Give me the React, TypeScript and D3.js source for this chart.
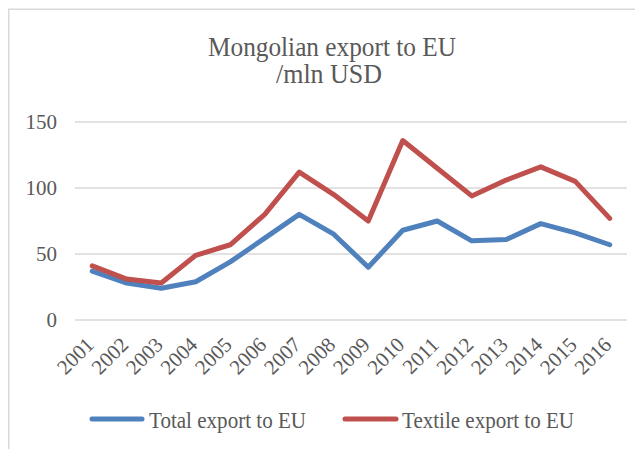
import * as d3 from "d3";

const years = ["2001", "2002", "2003", "2004", "2005", "2006", "2007", "2008", "2009", "2010", "2011", "2012", "2013", "2014", "2015", "2016"];
const totalExport = [37, 28, 24, 29, 44, 62, 80, 65, 40, 68, 75, 60, 61, 73, 66, 57];
const textileExport = [41, 31, 28, 49, 57, 80, 112, 95, 75, 136, 115, 94, 106, 116, 105, 77];
const yTicks = [0, 50, 100, 150];

const seriesNames = ["Total export to EU", "Textile export to EU"];
const seriesColors = ["#4F81BD", "#C0504D"];

const W = 635;
const H = 441;
const font = "Liberation Serif, Times New Roman, serif";
const textColor = "#595959";
const gridColor = "#D9D9D9";

export default function App() {
  const x = d3.scalePoint<string>().domain(years).range([67, 619]).padding(0.5);
  const y = d3.scaleLinear().domain([0, 150]).range([312, 114]);

  const line = d3
    .line<number>()
    .x((_, i) => x(years[i]) as number)
    .y((d) => y(d));

  const series = [totalExport, textileExport];

  return (
    <svg width={W} height={H} style={{ display: "block", background: "#fff" }}>
      {/* chart frame, runs off the right and bottom */}
      <rect x={0.75} y={1.25} width={W + 40} height={H + 40} fill="#fff" stroke={gridColor} strokeWidth={1.5} />

      <text x={324} y={48} textAnchor="middle" fontFamily={font} fontSize={27} fill={textColor} textLength={248} lengthAdjust="spacingAndGlyphs">
        Mongolian export to EU
      </text>
      <text x={321} y={75} textAnchor="middle" fontFamily={font} fontSize={27} fill={textColor} textLength={106} lengthAdjust="spacingAndGlyphs">
        /mln USD
      </text>

      {/* gridlines + y labels */}
      {yTicks.map((t) => (
        <g key={t}>
          <line x1={67} x2={619} y1={y(t)} y2={y(t)} stroke={gridColor} strokeWidth={1.5} />
          <text x={49} y={y(t)} dy="0.35em" textAnchor="end" fontFamily={font} fontSize={21} fill={textColor}>
            {t}
          </text>
        </g>
      ))}

      {/* x labels */}
      {years.map((yr) => {
        const px = (x(yr) as number) + 3;
        const py = 338;
        return (
          <text key={yr} transform={`translate(${px},${py}) rotate(-45)`} textAnchor="end" fontFamily={font} fontSize={21} fill={textColor}>
            {yr}
          </text>
        );
      })}

      {series.map((s, i) => (
        <path key={i} d={line(s) || ""} fill="none" stroke={seriesColors[i]} strokeWidth={5} strokeLinejoin="round" strokeLinecap="round" />
      ))}

      {/* legend */}
      <g>
        <line x1={84} x2={134} y1={411} y2={411} stroke={seriesColors[0]} strokeWidth={5} strokeLinecap="round" />
        <text x={141} y={420} fontFamily={font} fontSize={24} fill={textColor} textLength={157} lengthAdjust="spacingAndGlyphs">
          {seriesNames[0]}
        </text>
        <line x1={337} x2={388} y1={411} y2={411} stroke={seriesColors[1]} strokeWidth={5} strokeLinecap="round" />
        <text x={394} y={420} fontFamily={font} fontSize={24} fill={textColor} textLength={172} lengthAdjust="spacingAndGlyphs">
          {seriesNames[1]}
        </text>
      </g>
    </svg>
  );
}
